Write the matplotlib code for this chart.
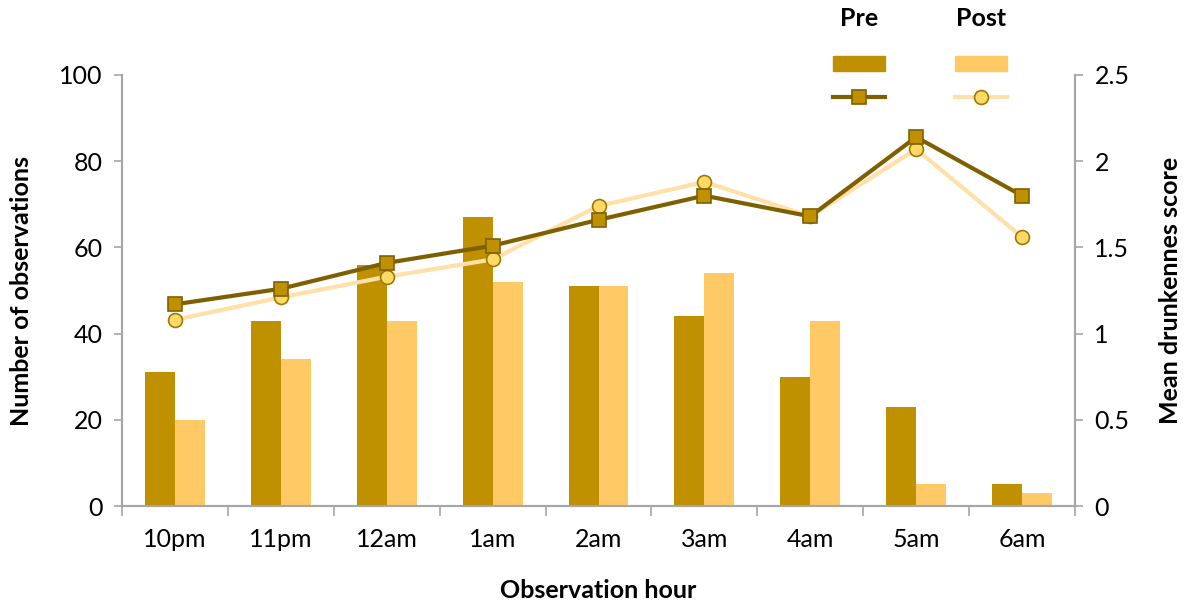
import matplotlib.pyplot as plt
from matplotlib.lines import Line2D
from matplotlib.patches import Rectangle
import numpy as np

hours = ["10pm", "11pm", "12am", "1am", "2am", "3am", "4am", "5am", "6am"]
obs_pre = [31, 43, 56, 67, 51, 44, 30, 23, 5]
obs_post = [20, 34, 43, 52, 51, 54, 43, 5, 3]
score_pre = [1.17, 1.26, 1.41, 1.51, 1.66, 1.80, 1.68, 2.14, 1.80]
score_post = [1.08, 1.21, 1.33, 1.43, 1.74, 1.88, 1.68, 2.07, 1.56]

bar_pre = "#BF9000"
bar_post = "#FFC966"
line_pre = "#7F6000"
line_post = "#FFE0A8"
marker_post = "#FFD966"
edge_post = "#9C7A00"
spine = "#A6A6A6"

plt.rcParams["font.family"] = ["Lato", "DejaVu Sans"]

fig = plt.figure(figsize=(11.9, 6.06), dpi=100)
W, H = 1190, 606
ax = fig.add_axes([122 / W, 1 - 506 / H, (1075 - 122) / W, (506 - 75) / H])
ax2 = ax.twinx()

x = np.arange(len(hours))
w = 0.283
ax.bar(x - w / 2, obs_pre, w, color=bar_pre, zorder=2)
ax.bar(x + w / 2, obs_post, w, color=bar_post, zorder=2)

ax2.plot(x, score_post, color=line_post, lw=3, marker="o", ms=10,
         mfc=marker_post, mec=edge_post, mew=1.2, zorder=3)
ax2.plot(x, score_pre, color=line_pre, lw=3, marker="s", ms=10,
         mfc=bar_pre, mec=line_pre, mew=1.2, zorder=4)

ax.set_xlim(-0.5, len(hours) - 0.5)
ax.set_ylim(0, 100)
ax2.set_ylim(0, 2.5)
ax.set_yticks(range(0, 101, 20))
ax2.set_yticks([0, 0.5, 1, 1.5, 2, 2.5])
ax2.set_yticklabels(["0", "0.5", "1", "1.5", "2", "2.5"])

ax.set_xticks(x)
ax.set_xticklabels(hours)
ax.set_xticks(np.arange(-0.5, len(hours)), minor=True)
ax.tick_params(axis="x", which="major", length=0, pad=16, labelsize=18)
ax.tick_params(axis="x", which="minor", length=7, color=spine, width=1.2)
ax.tick_params(axis="y", length=6, color=spine, width=1.2, labelsize=18, pad=8)
ax2.tick_params(axis="y", length=6, color=spine, width=1.2, labelsize=18, pad=8)

for a in (ax, ax2):
    a.spines["top"].set_visible(False)
    for s in ("left", "right", "bottom"):
        a.spines[s].set_color(spine)
        a.spines[s].set_linewidth(1.5)

ax.set_xlabel("Observation hour", fontsize=18, fontweight="bold", va="center")
ax.set_ylabel("Number of observations", fontsize=18, fontweight="bold", va="center")
ax2.set_ylabel("Mean drunkennes score", fontsize=18, fontweight="bold", va="center")
ax.xaxis.set_label_coords(0.5, -0.195)
ax.yaxis.set_label_coords(-0.105, 0.5)
ax2.yaxis.set_label_coords(1.0997, 0.5)

# legend drawn by hand: column headers, bar swatches, line samples
for cx, name, fc, lc, mk, mf, me in [
    (859, "Pre", bar_pre, line_pre, "s", bar_pre, line_pre),
    (981, "Post", bar_post, line_post, "o", marker_post, edge_post),
]:
    fig.text(cx / W, 1 - 19 / H, name, ha="center", va="center",
             fontsize=18, fontweight="bold")
    fig.add_artist(Rectangle(((cx - 26) / W, 1 - 71 / H), 52 / W, 15 / H,
                             transform=fig.transFigure, color=fc))
    fig.add_artist(Line2D([(cx - 26) / W, (cx + 26) / W], [1 - 97 / H] * 2,
                          transform=fig.transFigure, color=lc, lw=3))
    fig.add_artist(Line2D([cx / W], [1 - 97 / H], transform=fig.transFigure,
                          marker=mk, ms=10, mfc=mf, mec=me, mew=1.2, lw=0))

fig.savefig("out.png", dpi=100)
